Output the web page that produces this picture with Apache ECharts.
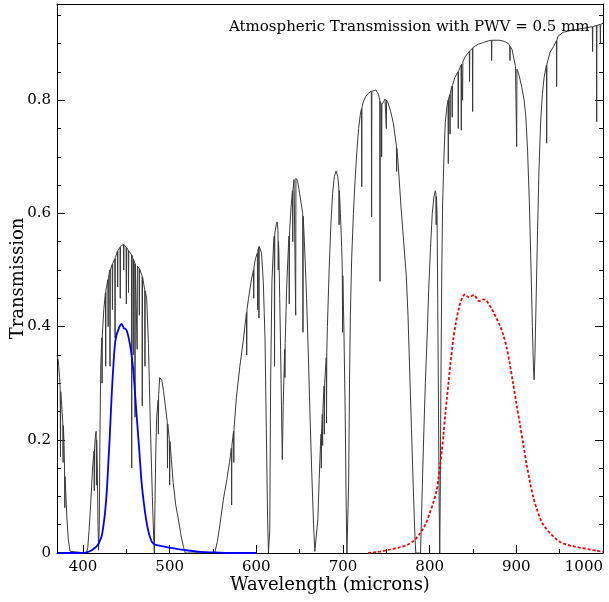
<!DOCTYPE html>
<html>
<head>
<meta charset="utf-8">
<script src="https://cdn.jsdelivr.net/npm/echarts@6/dist/echarts.min.js"></script>
<style>
html, body {margin:0; padding:0; background:#fff;}
#chart {width:609px; height:602px;}
</style>
</head>
<body>
<div id="chart"></div>
<script>
// atmospheric transmission, [wavelength, transmission] (narrow lines as 3-point spikes)
var atmCurve = [
  [370,0.35],[371.5,0.34],[373,0.31],[373.7,0.29],[374,0.17],[374.3,0.285],[375.5,0.26],[376.7,0.23],[377,0.16],[377.3,0.225],
  [378,0.2],[378.7,0.15],[379,0.08],[379.3,0.135],[380,0.11],[381.5,0.06],[383,0.025],[385,0.003],[386,0],
  [404,0],[405.5,0.01],[407,0.04],[409,0.09],[411,0.15],[412.7,0.18],[413,0.11],[413.3,0.185],[414.5,0.21],[415.2,0.215],
  [415.5,0.12],[415.8,0.2],[416.5,0.15],[417.2,0.06],[418,0.005],
  [418.8,0.05],[419.5,0.2],[420.5,0.33],[421.7,0.38],[422,0.3],[422.3,0.385],[424,0.43],[425.9,0.46],[426.2,0.33],[426.5,0.465],
  [428.7,0.483],[429,0.4],[429.3,0.486],[430.9,0.5],[431.2,0.33],[431.5,0.5],[433.7,0.51],[434,0.43],[434.3,0.512],
  [436.7,0.52],[437,0.38],[437.3,0.522],[439.7,0.533],[440,0.47],[440.3,0.535],[442.7,0.54],[443,0.45],[443.3,0.542],
  [445,0.545],[446.7,0.545],[447,0.5],[447.3,0.545],[449.7,0.54],[450,0.44],[450.3,0.54],[452.2,0.535],[452.5,0.46],[452.8,0.534],
  [455.9,0.527],[456.2,0.15],[456.5,0.526],[457.7,0.52],[458,0.35],[458.3,0.519],[459.7,0.512],[460,0.24],[460.3,0.511],
  [462.2,0.508],[462.5,0.36],[462.8,0.507],[464.7,0.503],[465,0.42],[465.3,0.502],[468.1,0.49],[468.4,0.26],[468.7,0.488],
  [471.2,0.465],[471.5,0.33],[471.8,0.463],[473.5,0.45],[475.5,0.37],[477.5,0.24],[480,0.1],[481.5,0.03],[482.3,0],
  [483,0.08],[484,0.18],[485,0.24],[486.7,0.27],[487,0.21],[487.3,0.28],[488.5,0.31],[490,0.31],[491,0.305],[493,0.285],
  [495,0.26],[497.2,0.232],[497.5,0.15],[497.8,0.228],[499.7,0.2],[500,0.12],[500.3,0.197],[502,0.165],[504,0.125],
  [507,0.085],[510,0.06],[513,0.032],[516,0.01],[518,0],
  [552,0],[555,0.02],[558,0.05],[562,0.095],[566,0.13],[569,0.16],[571.2,0.185],[571.5,0.085],[571.8,0.19],
  [573.7,0.215],[574,0.16],[574.3,0.22],[577,0.275],[581,0.33],[585,0.376],[588.6,0.425],[588.9,0.35],[589.2,0.43],
  [591,0.45],[594,0.48],[596.7,0.5],[597,0.45],[597.3,0.505],[599,0.52],[601.2,0.53],[601.5,0.43],[601.8,0.535],
  [602.7,0.54],[603,0.415],[603.3,0.542],[604.5,0.545],[606,0.53],[608,0.48],[610,0.38],[611.5,0.22],[613,0.06],[614,0],
  [615.5,0.04],[616.5,0.3],[618,0.48],[620,0.55],[620.7,0.56],[621,0.33],[621.3,0.565],[623,0.58],[624,0.585],
  [625,0.57],[625.3,0.5],[625.6,0.55],[626,0.53],[627,0.45],[628,0.36],[629,0.26],[630,0.165],
  [631,0.26],[632.7,0.36],[633,0.31],[633.3,0.37],[635,0.47],[637,0.54],[637.7,0.56],[638,0.44],[638.3,0.565],
  [640,0.61],[641.7,0.64],[642,0.55],[642.3,0.642],[643.5,0.66],[645.1,0.662],[645.4,0.42],[645.7,0.662],[647.5,0.658],
  [650,0.635],[653.5,0.6],[653.8,0.39],[654.1,0.595],[656,0.53],[658,0.45],[660,0.35],[662,0.24],[664,0.14],[666,0.05],
  [667.5,0.003],[668.5,0],
  [669.5,0.003],[671,0.06],[672.5,0.13],[674,0.19],[674.7,0.21],[675,0.15],[675.3,0.215],[676.2,0.245],[676.5,0.19],[676.8,0.255],
  [678.2,0.295],[678.5,0.21],[678.8,0.3],[680.7,0.345],[681,0.23],[681.3,0.355],[682,0.4],[684,0.5],[686,0.58],[688,0.635],
  [690,0.665],[692,0.675],[694,0.665],[695.2,0.645],[695.5,0.58],[695.8,0.64],[697,0.6],[698.5,0.54],[699.2,0.5],[699.5,0.39],
  [699.8,0.49],[701,0.4],[702.5,0.25],[703.7,0.08],[704.5,0],[705.5,0],
  [706.5,0.12],[707.5,0.3],[708.5,0.42],[710,0.52],[712,0.6],[714,0.66],[716,0.71],[718,0.75],[720,0.775],[721.3,0.785],
  [721.6,0.647],[721.9,0.787],[723,0.795],[726,0.806],[729,0.812],[732.7,0.816],[733,0.594],[733.3,0.816],[735,0.818],
  [738,0.818],[741,0.81],[742.4,0.8],[742.7,0.48],[743,0.798],[744.3,0.792],[744.6,0.7],[744.9,0.792],[746,0.795],
  [748.5,0.802],[749.7,0.8],[750,0.75],[750.3,0.8],[752,0.795],[755,0.78],[758,0.76],[761.6,0.72],[761.9,0.674],[762.2,0.715],
  [764,0.68],[767,0.61],[770,0.55],[773,0.49],[775,0.42],[777,0.32],[779,0.22],[781,0.12],[783,0.03],[784,0],
  [789.5,0],[791,0.09],[793,0.2],[795,0.3],[797,0.38],[799,0.47],[801,0.54],[803,0.6],[805,0.63],[806.5,0.64],
  [807.2,0.635],[807.5,0.58],[807.8,0.63],[808.5,0.6],[809.3,0.45],[810.2,0.25],[811,0.08],[811.6,0],
  [812.2,0.1],[813,0.3],[814,0.5],[815,0.62],[816.5,0.7],[818,0.76],[820,0.79],[821.2,0.8],[821.5,0.688],[821.8,0.802],
  [823.2,0.81],[823.5,0.74],[823.8,0.812],[825.7,0.825],[826,0.77],[826.3,0.826],[829,0.84],[832.7,0.85],[833,0.75],
  [833.3,0.851],[836.2,0.862],[836.5,0.747],[836.8,0.864],[837.7,0.866],[838,0.8],[838.3,0.868],[841,0.877],
  [845.7,0.886],[846,0.833],[846.3,0.887],[849.3,0.892],[849.6,0.78],[849.9,0.893],[851,0.895],[856,0.899],[862,0.902],
  [868,0.905],[871.2,0.906],[871.5,0.87],[871.8,0.906],[874,0.906],[880,0.906],[886,0.904],[891,0.9],[892.4,0.896],
  [892.7,0.87],[893,0.895],[895,0.89],[899,0.86],[900.1,0.857],[900.4,0.718],[900.7,0.855],[903,0.845],[906,0.825],
  [909,0.8],[911,0.77],[913,0.71],[915,0.62],[917,0.5],[918.5,0.4],[919.7,0.33],[920.5,0.306],[921.5,0.35],[923,0.46],
  [924.5,0.57],[926,0.67],[928,0.76],[930,0.81],[932,0.84],[934.7,0.862],[935,0.724],[935.3,0.864],[939,0.885],
  [943,0.895],[946.2,0.905],[946.5,0.824],[946.8,0.906],[948,0.913],[954,0.92],[965,0.924],[977,0.927],
  [987.7,0.93],[988,0.886],[988.3,0.93],[990,0.932],[992.4,0.932],[992.7,0.762],[993,0.932],[996.7,0.934],[997,0.9],
  [997.3,0.934],[1000,0.936]
];

// filter passband near 450 (blue)
var blueFilter = [
  [370,0],[400,0],[404,0.001],[410,0.005],[416,0.012],[419,0.02],[421.6,0.03],[423.5,0.048],[425.4,0.071],[427.5,0.11],
  [429.2,0.158],[431,0.21],[433,0.276],[435,0.33],[437,0.371],[439,0.387],[440.7,0.394],[442.5,0.401],[444.5,0.405],
  [446,0.401],[447.3,0.397],[449,0.396],[450.4,0.393],[452,0.385],[454,0.37],[456,0.35],[458,0.323],[460,0.283],
  [462,0.241],[465,0.18],[467.7,0.123],[470.5,0.085],[473.5,0.053],[476.5,0.032],[479.3,0.02],[481,0.017],[483,0.015],
  [495,0.011],[505,0.008],[518,0.005],[535,0.002],[552,0.001],[575,0],[600,0]
];

// filter passband near 850 (red dotted)
var redFilter = [
  [729,0],[740,0.002],[754,0.006],[765,0.01],[773.5,0.014],[782,0.022],[789,0.035],[795,0.05],[800,0.07],[804,0.088],
  [808,0.11],[810,0.13],[812,0.155],[814,0.18],[816,0.21],[818,0.245],[820,0.275],[822,0.305],[824,0.335],[827,0.375],
  [830,0.405],[833,0.428],[836,0.445],[839,0.455],[841,0.457],[843,0.454],[845,0.452],[848.5,0.454],[851,0.456],
  [853,0.453],[855,0.448],[857,0.445],[859,0.446],[862,0.448],[865,0.447],[868,0.44],[871,0.433],[874,0.425],
  [877,0.415],[881,0.402],[885,0.385],[889,0.362],[892,0.338],[896,0.302],[900,0.265],[904,0.229],[908,0.192],
  [912,0.156],[916,0.123],[920,0.096],[924,0.076],[927,0.063],[931,0.05],[935,0.042],[939,0.035],[945,0.026],
  [950,0.02],[958,0.015],[965,0.012],[975,0.009],[985,0.006],[992,0.004],[1000,0.002]
];

var titleText = 'Atmospheric Transmission with PWV = 0.5 mm';
var FONT = "'DejaVu Serif', serif";

var chart = echarts.init(document.getElementById('chart'));

function xAx(extra) {
    var base = {
        type: 'value', min: 370, max: 1000, gridIndex: 0,
        axisLine: {show: false, onZero: false, lineStyle: {color: '#000', width: 1}},
        axisTick: {show: true, inside: true, length: 4, lineStyle: {color: '#000', width: 1}},
        axisLabel: {show: false},
        splitLine: {show: false}
    };
    return Object.assign(base, extra);
}
function yAx(extra) {
    var base = {
        type: 'value', min: 0, max: 0.97, gridIndex: 0,
        axisLine: {show: false, onZero: false, lineStyle: {color: '#000', width: 1}},
        axisTick: {show: true, inside: true, length: 4, lineStyle: {color: '#000', width: 1}},
        axisLabel: {show: false},
        splitLine: {show: false}
    };
    return Object.assign(base, extra);
}

var option = {
    animation: false,
    backgroundColor: '#fff',
    title: {
        text: titleText,
        left: 224, top: 15,
        textStyle: {fontFamily: FONT, fontSize: 15, fontWeight: 'normal', color: '#000'}
    },
    grid: {left: 57, right: 6, top: 4, bottom: 49, containLabel: false, outerBoundsMode: 'none'},
    xAxis: [
        xAx({
            position: 'bottom', splitNumber: 6,
            axisLine: {show: true, onZero: false, lineStyle: {color: '#000', width: 1}},
            axisTick: {show: true, inside: true, length: 8, lineStyle: {color: '#000', width: 1}},
            axisLabel: {show: true, color: '#000', fontFamily: FONT, fontSize: 15, margin: 7,
                        showMinLabel: false, showMaxLabel: true, alignMaxLabel: 'right',
                        formatter: function (v) { return String(v); }},
            name: 'Wavelength (microns)', nameLocation: 'middle', nameGap: 23, nameMoveOverlap: false,
            nameTextStyle: {fontFamily: FONT, fontSize: 18, color: '#000'}
        }),
        xAx({position: 'bottom', splitNumber: 12}),
        xAx({position: 'top', axisLine: {show: true, onZero: false, lineStyle: {color: '#000', width: 1}},
             axisTick: {show: false}})
    ],
    yAxis: [
        yAx({
            position: 'left', interval: 0.2,
            axisLine: {show: true, onZero: false, lineStyle: {color: '#000', width: 1}},
            axisTick: {show: true, inside: true, length: 8, lineStyle: {color: '#000', width: 1}},
            axisLabel: {show: true, color: '#000', fontFamily: FONT, fontSize: 15, margin: 6, showMaxLabel: false},
            name: 'Transmission', nameLocation: 'middle', nameGap: 30, nameRotate: 90, nameMoveOverlap: false,
            nameTextStyle: {fontFamily: FONT, fontSize: 18, color: '#000'}
        }),
        yAx({position: 'left', interval: 0.05}),
        yAx({position: 'right', interval: 0.2,
             axisLine: {show: true, onZero: false, lineStyle: {color: '#000', width: 1}},
             axisTick: {show: true, inside: true, length: 8, lineStyle: {color: '#000', width: 1}}}),
        yAx({position: 'right', interval: 0.05})
    ],
    series: [
        {
            name: 'atmosphere', type: 'line', xAxisIndex: 0, yAxisIndex: 0,
            data: atmCurve, showSymbol: false, symbol: 'none',
            lineStyle: {color: '#3a3a3a', width: 1}
        },
        {
            name: 'blue', type: 'line', xAxisIndex: 0, yAxisIndex: 0,
            data: blueFilter, showSymbol: false, symbol: 'none', smooth: 0.3,
            lineStyle: {color: '#0000ff', width: 1.8}
        },
        {
            name: 'red', type: 'line', xAxisIndex: 0, yAxisIndex: 0,
            data: redFilter, showSymbol: false, symbol: 'none', smooth: 0.3,
            lineStyle: {color: '#ff0000', width: 1.8, type: [3, 2]}
        }
    ]
};

chart.setOption(option);
</script>
</body>
</html>
